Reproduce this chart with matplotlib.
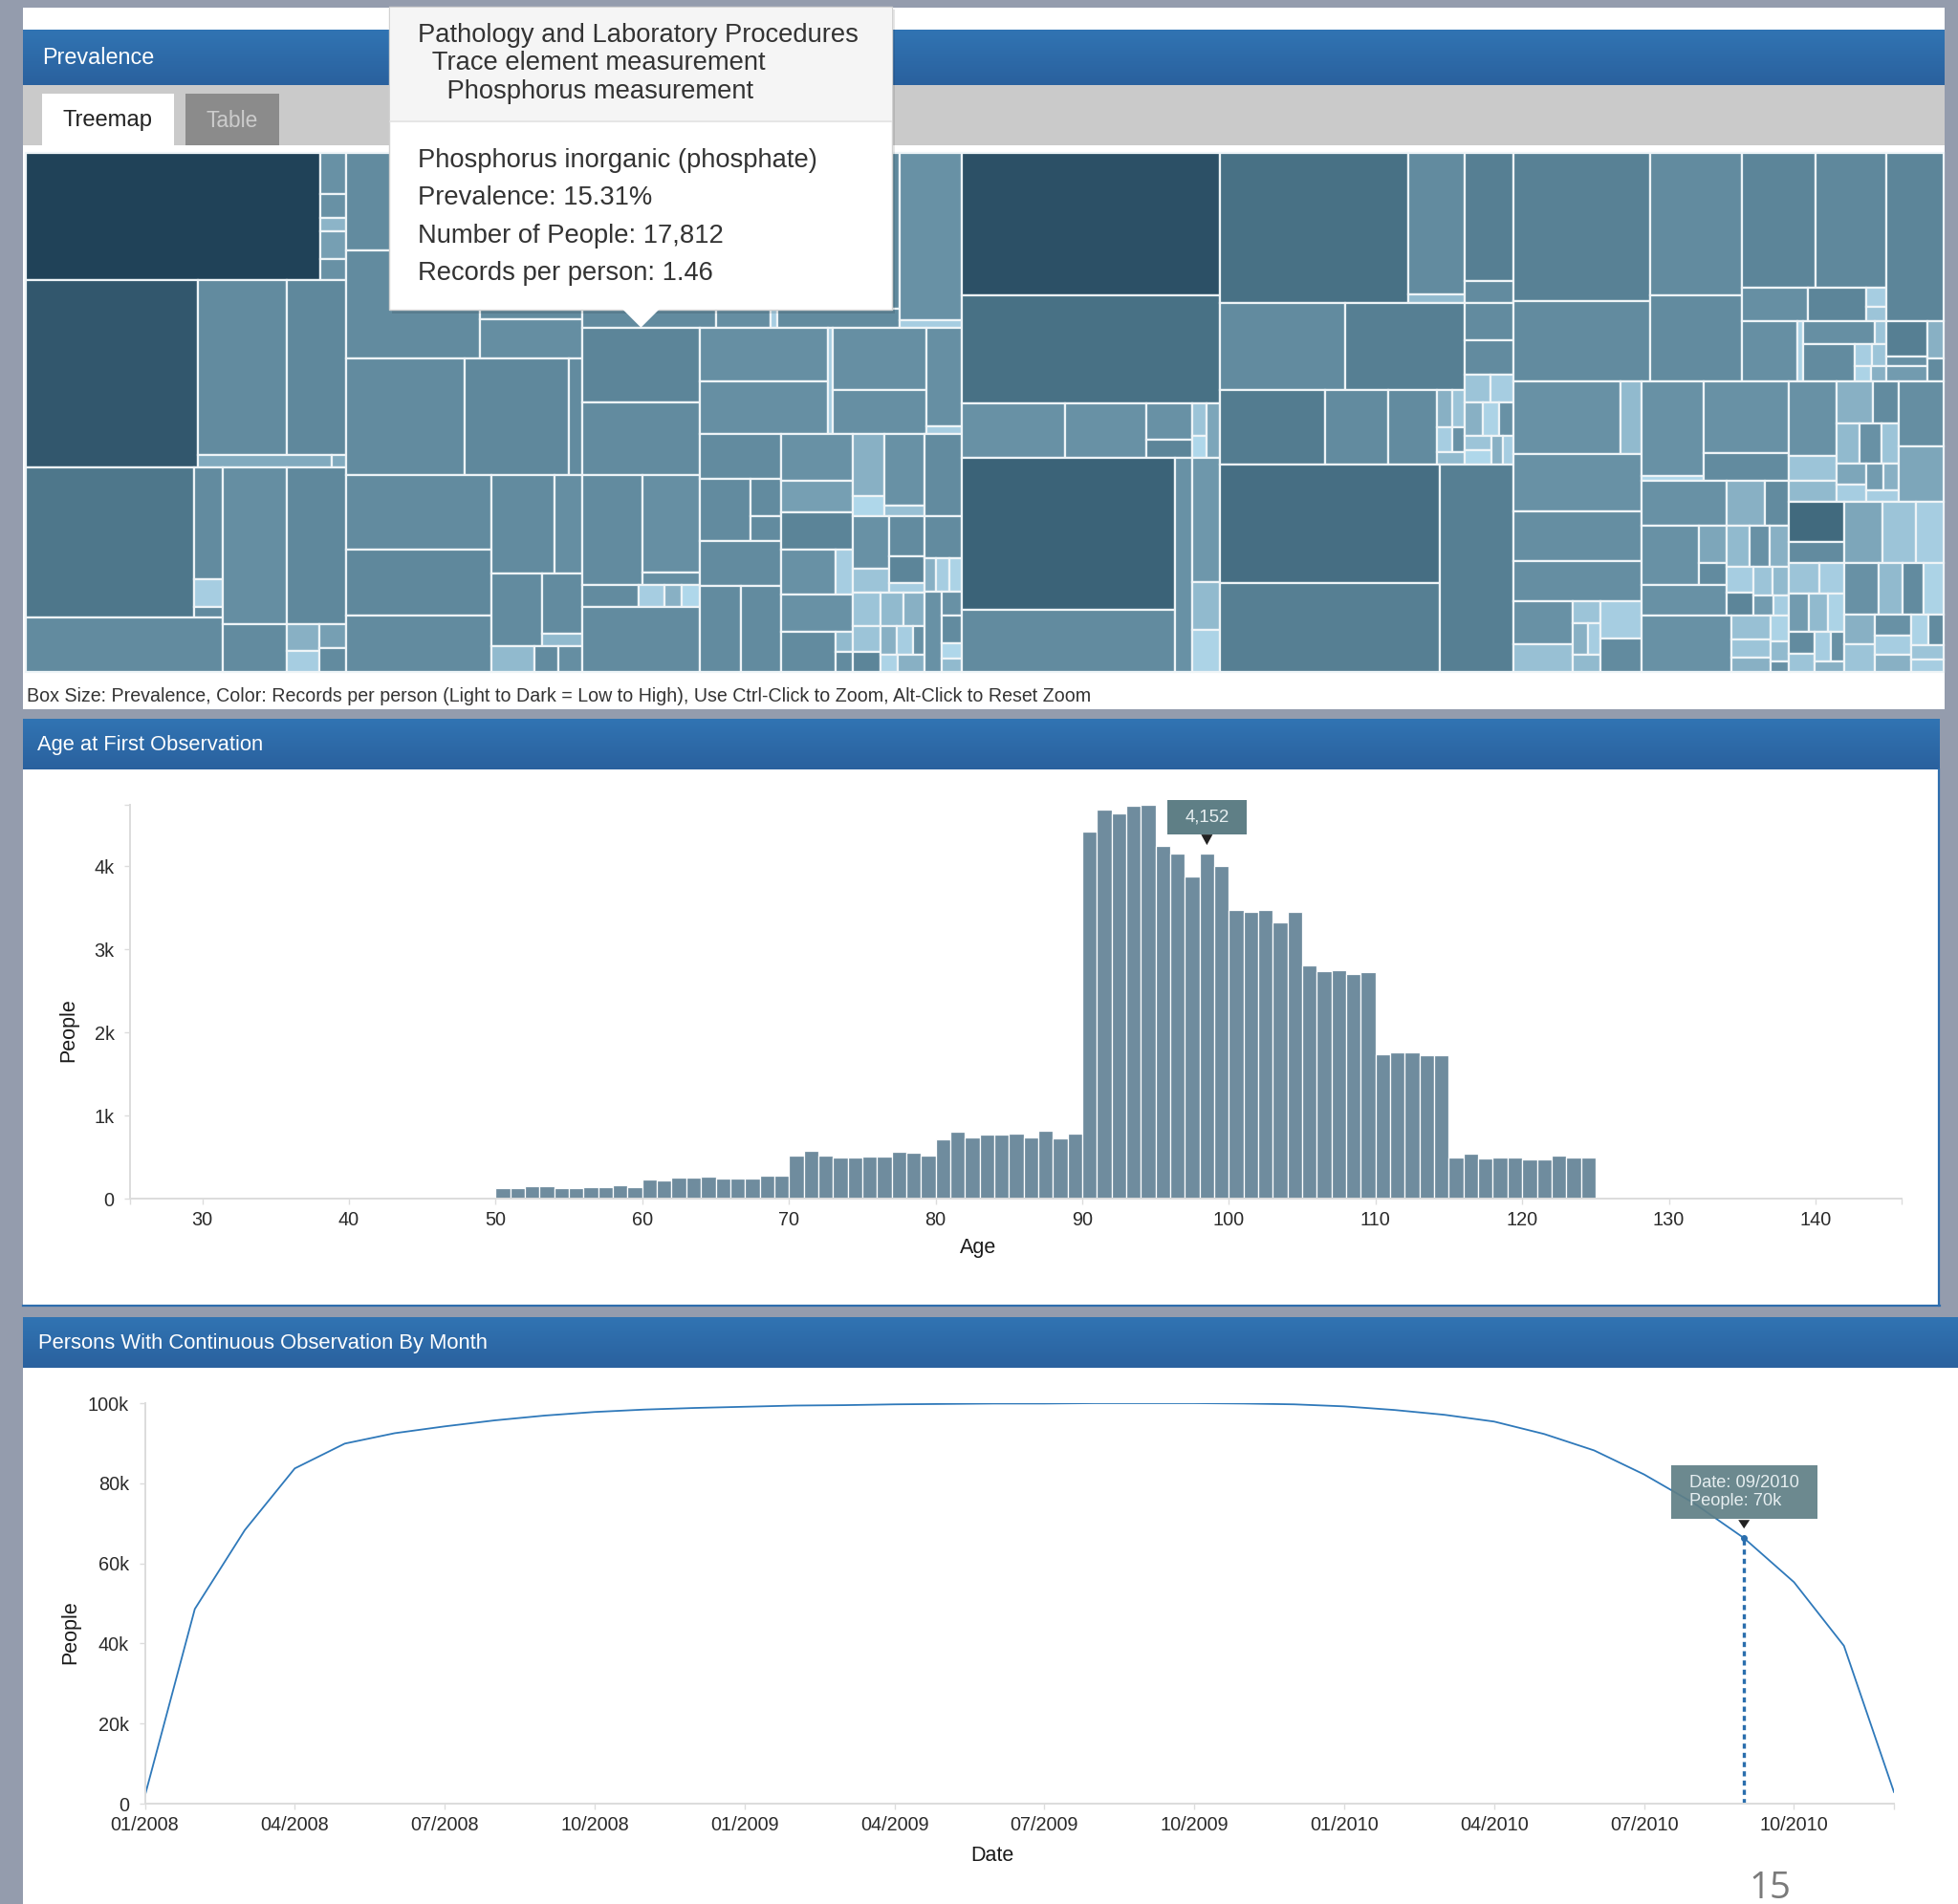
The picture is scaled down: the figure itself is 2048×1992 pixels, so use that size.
import numpy as np
import matplotlib
matplotlib.use("Agg")
import matplotlib.pyplot as plt
from matplotlib.patches import Rectangle, Polygon
from matplotlib.colors import LinearSegmentedColormap

plt.rcParams['font.family'] = ['Liberation Sans', 'DejaVu Sans']

# ------------------------------------------------------------------ data
AGE_BINS = list(range(50, 125))
AGE_PEOPLE = [126, 126, 150, 150, 126, 126, 140, 140, 164, 140,
              230, 220, 250, 250, 267, 244, 244, 244, 276, 276,
              520, 570, 520, 500, 500, 510, 510, 560, 550, 520,
              710, 800, 740, 770, 770, 780, 740, 820, 720, 780,
              4420, 4680, 4640, 4730, 4740, 4250, 4150, 3880, 4152, 4000,
              3480, 3450, 3470, 3330, 3450, 2810, 2740, 2750, 2700, 2730,
              1740, 1760, 1760, 1730, 1730, 500, 540, 480, 490, 500,
              470, 470, 520, 500, 490]
AGE_TICKS = [30, 40, 50, 60, 70, 80, 90, 100, 110, 120, 130, 140]
AGE_YTICKS = [0, 1000, 2000, 3000, 4000]
AGE_YLABELS = ['0', '1k', '2k', '3k', '4k']
AGE_TIP_BIN = 98

MONTH_LABELS = ['01/2008', '02/2008', '03/2008', '04/2008', '05/2008', '06/2008',
                '07/2008', '08/2008', '09/2008', '10/2008', '11/2008', '12/2008',
                '01/2009', '02/2009', '03/2009', '04/2009', '05/2009', '06/2009',
                '07/2009', '08/2009', '09/2009', '10/2009', '11/2009', '12/2009',
                '01/2010', '02/2010', '03/2010', '04/2010', '05/2010', '06/2010',
                '07/2010', '08/2010', '09/2010', '10/2010', '11/2010', '12/2010']
OBS_PEOPLE = [1900, 48600, 68300, 83700, 89900, 92500, 94200, 95700, 96900, 97800, 98400, 98800,
              99100, 99400, 99500, 99700, 99800, 99900, 99900, 100000, 100000, 100000, 99900, 99700,
              99200, 98300, 97100, 95400, 92300, 88200, 82200, 75000, 66300, 55300, 39400, 2900]
OBS_YTICKS = [0, 20000, 40000, 60000, 80000, 100000]
OBS_YLABELS = ['0', '20k', '40k', '60k', '80k', '100k']
OBS_TIP_MONTH = 32


class Sq(list):
    """group laid out with the squarified algorithm"""


def sq(*leaves):
    return Sq(leaves)


# treemap: (prevalence, records-per-person level); nested groups use slice/dice
TM_COL_A = [
    [(24.07, .98), [(0.693, .45), (0.399, .45), (0.231, .28), (0.462, .38), (0.357, .45)]],
    [(20.70, .86), [[(9.94, .5), (6.72, .52)], [(1.07, .33), (0.12, .33)]]],
    [[[(16.2, .66), [(2.07, .5), (0.506, .15), (0.184, .5)]], (6.95, .5)],
     [(6.43, .48), (1.94, .5)],
     [(6.05, .52), sq((0.55, .3), (0.45, .15), (0.4, .38), (0.42, .5))]],
]
TM_COL_B = [
    [(8.97, .5), (5.77, .52)],
    [(9.31, .5), [(4.51, .5), (2.62, .48)]],
    [(8.84, .5), (7.72, .52), (1.02, .5)],
    [[(6.96, .5), (6.15, .52), (5.22, .5)],
     [[(4.03, .5), (1.74, .48)], [(2.38, .5), [(1.54, .5), (0.32, .25)]],
      [(0.735, .25), (0.4, .5), (0.4, .48)]]],
]
TM_COL_C = [
    [[[(15.875, .5), (15.875, .52)], [(1.605, .5), (0.66, .48), (0.075, .15), (1.47, .5)]],
     [(6.7, .45), (0.3, .15)]],
    [[(5.64, .55, 'tip'), (5.45, .5), [(4.22, .5), [(3.59, .47), (0.46, .47)]],
      [(0.81, .5), (0.378, .15), (0.252, .3), (0.252, .1)], (4.89, .5)],
     [[[(4.43, .47), (4.33, .47)], (0.34, .15), [(3.75, .47), (2.63, .47)], [(2.21, .47), (0.168, .15)]],
      [[(2.34, .5), [(2.05, .5), [(0.72, .5), (0.48, .5)]], (2.34, .5), [(2.28, .5), (2.21, .5)]],
       [(2.2, .45), (1.45, .38), (1.74, .56), [(1.58, .45), (0.5, .15)], (1.74, .45),
        [(1.41, .5), [(0.224, .25), (0.224, .5)]]],
       [[[(1.25, .3), (0.4, .1)], [(1.86, .45), (0.256, .22)]],
        [[(1.22, .45), (0.55, .2)], [(0.9, .5), (0.62, .55), (0.2, .15)]],
        sq((0.6, .2), (0.5, .25), (0.45, .3), (0.45, .2), (0.35, .55), (0.3, .3), (0.3, .15),
           (0.2, .45), (0.2, .12), (0.3, .3))],
       [(1.98, .5), (1.02, .5), [(0.25, .3), (0.3, .15), (0.26, .12)],
        [(0.9, .45), [(0.3, .45), (0.35, .5), (0.2, .1), (0.17, .25)]]]]]],
]
TM_COL_D = [
    (23.6, .9),
    (18.01, .7),
    [(3.57, .45), (2.8, .45), [(1.07, .45), (0.52, .55)], [(0.286, .2), (0.187, .1)], (0.473, .35)],
    [[(20.86, .8), (8.55, .5)], (2.41, .45), [(2.2, .42), (0.836, .25), (0.748, .12)]],
]
TM_COL_E = [
    [(18.12, .7), [(5.09, .5), (0.315, .25)], [(4.02, .6), (0.663, .5)]],
    [[[(7.0, .5), (6.72, .6)],
      [(5.04, .62), (3.06, .5), (2.34, .5), sq((0.35, .3), (0.3, .2), (0.25, .15), (0.2, .45), (0.22, .25))]],
     [(1.17, .5), (1.09, .5), sq((0.45, .2), (0.4, .15), (0.4, .3), (0.35, .12), (0.3, .45),
                                 (0.25, .2), (0.25, .1), (0.22, .3), (0.19, .15))]],
    [[(16.72, .72), (12.5, .6)], (9.79, .6)],
]
TM_COL_F = [
    [[(13.09, .58), (7.04, .5)],
     [(8.32, .5), (5.04, .5)],
     [[(6.37, .55), (6.16, .52)],
      [(1.43, .47), (1.27, .55), [(0.24, .15), (0.192, .2)]],
      [(2.16, .47), (0.192, .12), [[(1.04, .47), (0.162, .2)],
                                    [(1.26, .5), sq((0.25, .15), (0.2, .2), (0.15, .12), (0.15, .3))]]]],
     [(6.21, .55), [[(0.924, .6), (0.264, .45), (0.396, .4)], [(0.39, .3), (0.234, .5)]]]],
    [[[(4.99, .45), (0.986, .25)], (4.74, .45), (4.12, .48), (3.3, .48),
      [[(1.68, .45), (1.06, .22)], sq((0.4, .2), (0.3, .3), (0.25, .15), (0.3, .25)), [(0.99, .15), (0.891, .5)]]],
     [[[(3.8, .45), (0.2, .1)], [(3.94, .45), (1.5, .5)]],
      [[(2.45, .45), [(2.16, .45), [(0.66, .35), (0.374, .5)]], (1.7, .45)],
       sq((1.1, .3), (0.7, .5), (0.6, .25), (0.55, .45), (0.5, .3), (0.45, .15), (0.4, .55),
          (0.35, .2), (0.3, .25), (0.25, .4), (0.2, .15))],
      [(3.24, .45), sq((0.6, .22), (0.45, .2), (0.35, .3), (0.3, .12), (0.25, .25), (0.12, .45))]],
     [[[(2.28, .45), (0.76, .2), (0.646, .25)],
       sq((1.0, .3), (0.7, .5), (0.6, .25), (0.55, .45), (0.45, .2), (0.4, .35), (0.35, .15),
          (0.3, .4), (0.26, .3), (0.24, .15)),
       [(1.87, .48), (1.62, .35)]],
      [[(1.41, .75), (0.75, .5), sq((0.6, .2), (0.48, .15), (0.5, .4), (0.45, .25), (0.4, .12),
                                    (0.35, .5), (0.3, .2), (0.3, .15), (0.25, .45), (0.2, .3))],
       sq((1.5, .35), (1.3, .2), (1.08, .15), (1.15, .45), (0.8, .25), (0.7, .5), (0.65, .12),
          (0.6, .3), (0.55, .2), (0.5, .45), (0.45, .15), (0.4, .3), (0.35, .12), (0.3, .5),
          (0.3, .2), (0.25, .15))]]],
]
TREEMAP = [TM_COL_A, TM_COL_B, TM_COL_C, TM_COL_D, TM_COL_E, TM_COL_F]

TIP_HEADER = ['Pathology and Laboratory Procedures',
              '  Trace element measurement',
              '    Phosphorus measurement']
TIP_BODY = ['Phosphorus inorganic (phosphate)',
            'Prevalence: 15.31%',
            'Number of People: 17,812',
            'Records per person: 1.46']
CAPTION = ('Box Size: Prevalence, Color: Records per person (Light to Dark = Low to High), '
           'Use Ctrl-Click to Zoom, Alt-Click to Reset Zoom')

# ------------------------------------------------------------------ styles
W, H = 2048, 1992
BG = '#949cad'
HDR_CMAP = LinearSegmentedColormap.from_list('hdr', ['#3174b3', '#2a619e'])
TM_CMAP = LinearSegmentedColormap.from_list(
    'tm', [(0, '#c2e9fb'), (0.2, '#9cc4d8'), (0.45, '#6891a5'), (0.6, '#567f93'),
           (0.8, '#3b6378'), (1.0, '#1d3e54')])
BAR_COLOR = '#6f8c9e'
LINE_COLOR = '#2f79ba'
AXIS_GRAY = '#dcdcdc'
TEXT = '#333333'
TIP_BOX = '#5f7f86'

fig = plt.figure(figsize=(W / 100, H / 100), dpi=100, facecolor=BG)
renderer = fig.canvas.get_renderer()
bg = fig.add_axes([0, 0, 1, 1])
bg.axis('off')


def fit_text(ax, x, y, s, width_px, size0=14, **kw):
    t = ax.text(x, y, s, fontsize=size0, **kw)
    bb = t.get_window_extent(renderer=renderer)
    t.set_fontsize(size0 * width_px / bb.width)
    return t


def box(ax, x0, y0, x1, y1, color, z=1, **kw):
    ec = kw.pop('edgecolor', 'none')
    ax.add_patch(Rectangle((x0, y0), x1 - x0, y1 - y0, facecolor=color,
                           edgecolor=ec, zorder=z, **kw))


def header(ax, x0, y0, x1, y1):
    grad = np.linspace(0, 1, 64).reshape(-1, 1)
    ax.imshow(grad, extent=[x0, x1, y1, y0], cmap=HDR_CMAP, aspect='auto',
              interpolation='bilinear', zorder=2)


# ------------------------------------------------------------------ treemap layout
def node_value(n):
    if isinstance(n, tuple):
        return n[0]
    return sum(node_value(c) for c in n)


def squarify(vals, x0, y0, x1, y1, ratio=1.618034):
    rects = [None] * len(vals)
    value = sum(vals)
    i0, n = 0, len(vals)
    while i0 < n:
        dx, dy = x1 - x0, y1 - y0
        s = vals[i0]
        mn = mx = s
        i1 = i0 + 1
        alpha = max(dy / dx, dx / dy) / (value * ratio)
        beta = s * s * alpha
        best = max(mx / beta, beta / mn)
        while i1 < n:
            v = vals[i1]
            s2 = s + v
            mn2, mx2 = min(mn, v), max(mx, v)
            beta = s2 * s2 * alpha
            r = max(mx2 / beta, beta / mn2)
            if r > best:
                break
            s, mn, mx, best = s2, mn2, mx2, r
            i1 += 1
        if dx < dy:
            yy = y0 + dy * s / value
            xx = x0
            for k in range(i0, i1):
                w = dx * vals[k] / s
                rects[k] = (xx, y0, xx + w, yy)
                xx += w
            y0 = yy
        else:
            xx = x0 + dx * s / value
            yy = y0
            for k in range(i0, i1):
                h = dy * vals[k] / s
                rects[k] = (x0, yy, xx, yy + h)
                yy += h
            x0 = xx
        value -= s
        i0 = i1
    return rects


def layout(node, x0, y0, x1, y1, depth, out):
    if isinstance(node, tuple):
        out.append((x0, y0, x1, y1, node[1], node[2] if len(node) > 2 else None))
        return
    vals = [node_value(c) for c in node]
    if isinstance(node, Sq):
        for c, r in zip(node, squarify(vals, x0, y0, x1, y1)):
            layout(c, *r, depth + 1, out)
        return
    tot = sum(vals)
    if depth % 2 == 0:
        x = x0
        for c, v in zip(node, vals):
            w = (x1 - x0) * v / tot
            layout(c, x, y0, x + w, y1, depth + 1, out)
            x += w
    else:
        y = y0
        for c, v in zip(node, vals):
            h = (y1 - y0) * v / tot
            layout(c, x0, y, x1, y + h, depth + 1, out)
            y += h


# ------------------------------------------------------------------ panel 1 : prevalence
box(bg, 24, 8, 2034, 742, 'white')
header(bg, 24, 31, 2034, 89)
box(bg, 24, 89, 2034, 152, '#cacaca', z=2)
box(bg, 44, 98, 182, 152, 'white', z=3)
box(bg, 194, 98, 292, 152, '#8b8b8b', z=3)
fit_text(bg, 44, 60, 'Prevalence', 118, color='white', va='center', zorder=6)
fit_text(bg, 113, 126, 'Treemap', 95, color='#222222', ha='center', va='center', zorder=6)
fit_text(bg, 243, 126, 'Table', 55, color='#cccccc', ha='center', va='center', zorder=6)

leaves = []
layout(TREEMAP, 27, 160, 2033, 703, 0, leaves)
tip_anchor = None
for (x0, y0, x1, y1, lvl, name) in leaves:
    bg.add_patch(Rectangle((x0, y0), x1 - x0, y1 - y0, facecolor=TM_CMAP(lvl),
                           edgecolor='#eef4f7', linewidth=1.6, zorder=3))
    if name == 'tip':
        tip_anchor = ((x0 + x1) / 2, y0)

fit_text(bg, 28, 728, CAPTION, 1115, color=TEXT, va='center', zorder=6)

# ------------------------------------------------------------------ panel 2 : age histogram
box(bg, 24, 752, 2029, 1366, 'white')
header(bg, 24, 752, 2029, 805)
bg.plot([2028, 2028], [805, 1366], color='#2e6eae', lw=1.6, zorder=4)
bg.plot([24, 2029], [1366, 1366], color='#2e6eae', lw=1.6, zorder=4)
fit_text(bg, 39, 779, 'Age at First Observation', 238, color='white', va='center', zorder=6)

# ------------------------------------------------------------------ panel 3 : observation
box(bg, 24, 1378, 2048, 1992, 'white')
header(bg, 24, 1378, 2048, 1431)
fit_text(bg, 40, 1405, 'Persons With Continuous Observation By Month', 476,
         color='white', va='center', zorder=6)
fit_text(bg, 1851, 1976, '15', 44, color='#7a7a7a', ha='center', va='center', zorder=6,
         family=['Open Sans', 'DejaVu Sans'])

bg.set_xlim(0, W)
bg.set_ylim(H, 0)


def style_axis(ax):
    ax.set_facecolor('none')
    for s in ('top', 'right'):
        ax.spines[s].set_visible(False)
    for s in ('left', 'bottom'):
        ax.spines[s].set_color(AXIS_GRAY)
        ax.spines[s].set_linewidth(1.4)
    ax.tick_params(which='both', direction='out', length=4.3, width=1.0, color=AXIS_GRAY,
                   labelcolor='#2a2a2a', labelsize=14.3)
    ax.tick_params(axis='x', pad=5)
    ax.tick_params(axis='y', pad=7.5)


# histogram
ax_h = fig.add_axes([136 / W, 1 - 1254 / H, (1989 - 136) / W, (1254 - 842) / H])
ax_h.bar(AGE_BINS, AGE_PEOPLE, width=1, align='edge', color=BAR_COLOR,
         edgecolor='white', linewidth=0.9)
ax_h.set_xlim(25.07, 145.87)
ax_h.set_ylim(0, max(AGE_PEOPLE))
style_axis(ax_h)
ax_h.set_xticks(AGE_TICKS)
ax_h.set_xticks([25.07, 145.87], minor=True)
ax_h.set_yticks(AGE_YTICKS)
ax_h.set_yticklabels(AGE_YLABELS)
ax_h.set_yticks([max(AGE_PEOPLE)], minor=True)
ax_h.text(0.4787, -0.126, 'Age', transform=ax_h.transAxes, ha='center', va='center',
          fontsize=15.5, color='#1a1a1a')
ax_h.text(-0.0345, 0.427, 'People', transform=ax_h.transAxes, ha='center', va='center',
          rotation=90, fontsize=15.5, color='#1a1a1a')

# line chart
ax_l = fig.add_axes([151.5 / W, 1 - 1887 / H, (1981 - 151.5) / W, (1887 - 1468) / H])
mx = np.arange(len(OBS_PEOPLE))
ax_l.plot(mx, OBS_PEOPLE, color=LINE_COLOR, lw=1.3)
ax_l.set_xlim(0, len(OBS_PEOPLE) - 1)
ax_l.set_ylim(0, max(OBS_PEOPLE))
style_axis(ax_l)
ax_l.set_xticks(mx[::3])
ax_l.set_xticklabels(MONTH_LABELS[::3])
ax_l.set_xticks([len(OBS_PEOPLE) - 1], minor=True)
ax_l.set_yticks(OBS_YTICKS)
ax_l.set_yticklabels(OBS_YLABELS)
ax_l.plot([OBS_TIP_MONTH, OBS_TIP_MONTH], [0, OBS_PEOPLE[OBS_TIP_MONTH]], color='#2a6ead',
          lw=2.4, linestyle=(0, (1.6, 1.3)))
ax_l.plot([OBS_TIP_MONTH], [OBS_PEOPLE[OBS_TIP_MONTH]], 'o', color='#2a6ead', ms=4)
ax_l.text(0.4846, -0.129, 'Date', transform=ax_l.transAxes, ha='center', va='center',
          fontsize=15.5, color='#1a1a1a')
ax_l.text(-0.0424, 0.427, 'People', transform=ax_l.transAxes, ha='center', va='center',
          rotation=90, fontsize=15.5, color='#1a1a1a')

# ------------------------------------------------------------------ overlay: tooltips
ov = fig.add_axes([0, 0, 1, 1])
ov.set_xlim(0, W)
ov.set_ylim(H, 0)
ov.axis('off')
ov.patch.set_alpha(0)

# treemap tooltip
tx, ty = tip_anchor
bx0, bx1 = tx - 263, tx + 263
by0, by1, bsep = 7, ty - 19, 127
box(ov, bx0 + 3, by0 + 3, bx1 + 3, by1 + 4, 'black', z=1, alpha=0.10)
box(ov, bx0, by0, bx1, by1, 'white', z=2, edgecolor='#d2d2d2', linewidth=1.0)
box(ov, bx0 + 1, by0 + 1, bx1 - 1, bsep, '#f5f5f5', z=3)
ov.plot([bx0 + 1, bx1 - 1], [bsep, bsep], color='#e2e2e2', lw=1.2, zorder=4)
ov.add_patch(Polygon([(tx - 20, by1 - 1), (tx + 20, by1 - 1), (tx, ty)], closed=True,
                     facecolor='white', edgecolor='none', zorder=4))
t0 = fit_text(ov, bx0 + 30, 37, TIP_HEADER[0], 465, color=TEXT, va='center', zorder=6)
fs = t0.get_fontsize()
for i, s in enumerate(TIP_HEADER[1:], start=1):
    ov.text(bx0 + 30, 37 + 29.3 * i, s, fontsize=fs, color=TEXT, va='center', zorder=6)
for i, s in enumerate(TIP_BODY):
    ov.text(bx0 + 30, 168 + 39.3 * i, s, fontsize=fs, color=TEXT, va='center', zorder=6)

# histogram tooltip
tip_val = AGE_PEOPLE[AGE_BINS.index(AGE_TIP_BIN)]
dx, dy = ax_h.transData.transform((AGE_TIP_BIN + 0.5, tip_val))
px, py = dx, H - dy
box(ov, px - 41, py - 56, px + 42, py - 20, TIP_BOX, z=5)
ov.add_patch(Polygon([(px - 6, py - 20), (px + 6, py - 20), (px, py - 9)], closed=True,
                     facecolor='#222222', edgecolor='none', zorder=6))
fit_text(ov, px + 0.5, py - 38, f'{tip_val:,}', 47,
         color='#e6eef0', ha='center', va='center', zorder=7)

# line tooltip
obs_val = OBS_PEOPLE[OBS_TIP_MONTH]
dx, dy = ax_l.transData.transform((OBS_TIP_MONTH, obs_val))
px, py = dx, H - dy
box(ov, px - 76, py - 76, px + 77, py - 20, TIP_BOX, z=5, alpha=0.92)
ov.add_patch(Polygon([(px - 6, py - 19), (px + 6, py - 19), (px, py - 10)], closed=True,
                     facecolor='#222222', edgecolor='none', zorder=6))
t1 = fit_text(ov, px - 57, py - 58, 'Date: ' + MONTH_LABELS[OBS_TIP_MONTH], 115,
              color='#e6eef0', va='center', zorder=7)
ov.text(px - 57, py - 39, f'People: {round(obs_val, -4) / 1000:.0f}k',
        fontsize=t1.get_fontsize(), color='#e6eef0', va='center', zorder=7)

fig.savefig('out.png', dpi=100, facecolor=BG)
